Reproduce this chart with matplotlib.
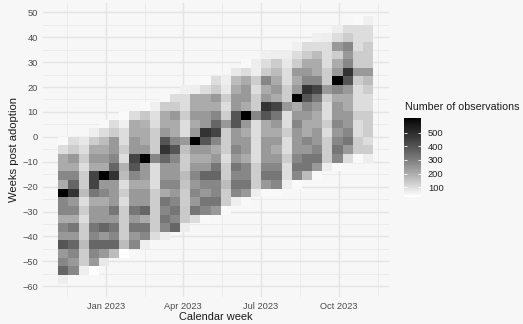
import numpy as np
import matplotlib
matplotlib.use("Agg")
import matplotlib.pyplot as plt
import matplotlib.dates as mdates
from matplotlib.colors import ListedColormap

# ---- data -----------------------------------------------------------------
first_week = np.datetime64("2022-11-12")
last_week = np.datetime64("2023-11-04")
weeks_post_min = -57
weeks_post_max = 47
n_bins = 30

# observations per 2D bin; each column lists counts from its lowest filled row upward
col_start = [0, 1, 1, 1, 2, 3, 3, 4, 4, 5, 5, 6, 6, 7, 7, 8,
             8, 9, 9, 10, 10, 10, 11, 11, 12, 12, 13, 13, 14, 14, 14]
col_counts = [
    [65, 358, 280, 242, 398, 242, 280, 205, 280, 280, 605, 205, 280, 205, 205, 100, 43],
    [280, 242, 280, 358, 242, 318, 205, 280, 242, 483, 358, 280, 205, 242, 134, 100],
    [65, 134, 134, 169, 134, 134, 100, 134, 100, 169, 134, 134, 100, 134, 100, 77],
    [32, 242, 280, 358, 280, 318, 242, 242, 205, 318, 439, 439, 205, 242, 205, 134, 65],
    [77, 242, 358, 242, 358, 242, 242, 205, 280, 242, 605, 205, 242, 205, 169, 100, 45],
    [169, 358, 280, 318, 242, 318, 242, 242, 242, 483, 358, 280, 242, 242, 134, 100],
    [31, 169, 134, 134, 134, 134, 100, 134, 100, 169, 190, 100, 134, 100, 100, 61, 40],
    [280, 242, 318, 242, 318, 242, 242, 205, 280, 398, 439, 242, 242, 205, 205, 100],
    [65, 280, 318, 205, 358, 242, 242, 205, 242, 242, 605, 242, 205, 205, 190, 142, 43],
    [100, 134, 134, 134, 134, 134, 100, 100, 100, 280, 134, 134, 134, 100, 95, 61],
    [65, 280, 318, 280, 318, 205, 280, 242, 242, 358, 483, 400, 242, 205, 205, 134, 45],
    [358, 280, 318, 280, 242, 280, 242, 242, 280, 398, 280, 205, 205, 242, 134, 100],
    [70, 140, 140, 134, 134, 150, 169, 134, 134, 160, 242, 100, 100, 134, 100, 100, 61],
    [100, 318, 242, 280, 242, 280, 242, 205, 242, 605, 242, 205, 242, 205, 205, 65],
    [43, 280, 318, 242, 280, 358, 242, 205, 242, 398, 483, 242, 242, 205, 205, 100, 43],
    [242, 318, 280, 280, 358, 318, 242, 205, 280, 439, 358, 280, 205, 242, 134, 100],
    [43, 134, 134, 169, 134, 134, 100, 134, 134, 134, 242, 134, 100, 134, 77, 65],
    [65, 280, 318, 280, 318, 242, 280, 242, 242, 398, 398, 242, 242, 205, 169, 77],
    [45, 242, 318, 280, 280, 205, 242, 242, 205, 242, 605, 205, 242, 242, 205, 100, 43],
    [65, 134, 134, 134, 100, 100, 100, 100, 100, 280, 134, 134, 100, 134, 65, 65],
    [43, 242, 318, 280, 242, 242, 242, 205, 205, 398, 483, 242, 205, 280, 134, 100, 61],
    [43, 280, 318, 280, 242, 205, 242, 205, 242, 318, 439, 205, 242, 205, 169, 134, 65],
    [65, 100, 100, 134, 100, 100, 134, 100, 100, 242, 134, 134, 100, 100, 77, 65],
    [43, 280, 318, 280, 242, 242, 242, 280, 242, 205, 605, 242, 205, 242, 134, 100, 61],
    [169, 318, 318, 242, 280, 205, 205, 242, 280, 398, 483, 280, 242, 205, 134, 100],
    [43, 242, 318, 280, 242, 242, 205, 205, 242, 318, 439, 280, 205, 205, 169, 100, 61],
    [65, 134, 134, 134, 100, 134, 100, 100, 134, 242, 134, 134, 100, 100, 100, 65],
    [43, 280, 318, 280, 242, 280, 242, 242, 205, 280, 605, 242, 205, 134, 242, 100, 65],
    [100, 242, 318, 280, 242, 242, 205, 205, 242, 398, 483, 280, 242, 280, 134, 100],
    [43, 134, 134, 100, 100, 134, 100, 100, 100, 134, 242, 134, 134, 100, 100, 100, 43],
    [65, 134, 100, 134, 134, 134, 100, 100, 134, 169, 242, 134, 134, 134, 100, 100, 61],
]

legend_ticks = [100, 200, 300, 400, 500]
x_tick_dates = ["2023-01-01", "2023-04-01", "2023-07-01", "2023-10-01"]
x_tick_labels = ["Jan 2023", "Apr 2023", "Jul 2023", "Oct 2023"]
y_ticks = list(range(-60, 51, 10))


# ---- binning (same rule as a 2D histogram with 30 bins) ---------------------
def bin_edges(lo, hi, bins=n_bins):
    w = (hi - lo) / bins
    origin = np.floor(lo / w) * w
    n = int(np.floor((hi + w - origin) / w + 1e-9)) + 1
    edges = origin + w * np.arange(n)
    if len(edges) > 1 and edges[-2] >= hi:
        edges = edges[:-1]
    return edges


x_lo = mdates.date2num(first_week)
x_hi = mdates.date2num(last_week)
x_edges = bin_edges(x_lo, x_hi)
y_edges = bin_edges(weeks_post_min, weeks_post_max)

grid = np.full((len(y_edges) - 1, len(x_edges) - 1), np.nan)
for i, (start, counts) in enumerate(zip(col_start, col_counts)):
    grid[start:start + len(counts), i] = counts
grid = np.ma.masked_invalid(grid)


# ---- white -> black ramp, linear in CIE L* ---------------------------------
def lstar_gray(t):
    L = 100.0 * (1.0 - t)
    Y = np.where(L > 8, ((L + 16) / 116.0) ** 3, L / 903.3)
    s = np.where(Y <= 0.0031308, 12.92 * Y, 1.055 * Y ** (1 / 2.4) - 0.055)
    return np.clip(s, 0, 1)


g = lstar_gray(np.linspace(0, 1, 256))
cmap = ListedColormap(np.column_stack([g, g, g]))

# ---- figure ----------------------------------------------------------------
plt.rcParams["font.family"] = ["Liberation Sans", "DejaVu Sans"]
W, H = 523, 324
bg = "#f7f7f7"
fig = plt.figure(figsize=(W / 100, H / 100), dpi=100, facecolor=bg)

pl, pr, pt, pb = 42.6, 388.7, 2.6, 297.0
ax = fig.add_axes([pl / W, 1 - pb / H, (pr - pl) / W, (pb - pt) / H])
ax.set_facecolor(bg)

vmin, vmax = float(grid.min()), float(grid.max())
mesh = ax.pcolormesh(x_edges, y_edges, grid, cmap=cmap, vmin=vmin, vmax=vmax,
                     shading="flat", edgecolors="none", antialiased=False,
                     zorder=2)

xr = x_edges[-1] - x_edges[0]
yr = y_edges[-1] - y_edges[0]
ax.set_xlim(x_edges[0] - 0.05 * xr, x_edges[-1] + 0.05 * xr)
ax.set_ylim(y_edges[0] - 0.05 * yr, y_edges[-1] + 0.05 * yr)

major_x = mdates.date2num(np.array(x_tick_dates, dtype="datetime64[D]"))
all_x = np.concatenate([[major_x[0] - 92], major_x, [major_x[-1] + 92]])
minor_x = (all_x[:-1] + all_x[1:]) / 2
ax.set_xticks(major_x)
ax.set_xticklabels(x_tick_labels)
ax.set_xticks(minor_x, minor=True)
ax.set_yticks(y_ticks)
ax.set_yticks([v + 5 for v in y_ticks[:-1]], minor=True)

ax.grid(which="major", color="#e4e4e4", linewidth=1.05, zorder=0)
ax.grid(which="minor", color="#ebebeb", linewidth=0.6, zorder=0)
ax.set_axisbelow(True)
for s in ax.spines.values():
    s.set_visible(False)
ax.tick_params(which="both", length=0)
ax.tick_params(axis="x", pad=3.3, labelsize=6.7, labelcolor="#4d4d4d")
ax.tick_params(axis="y", pad=3.4, labelsize=6.7, labelcolor="#4d4d4d")

fig.text(14 / W, 1 - 149.8 / H, "Weeks post adoption", rotation=90,
         ha="center", va="center", fontsize=8.1, color="#1a1a1a")
fig.text((pl + pr) / 2 / W, 1 - 317.5 / H, "Calendar week",
         ha="center", va="center", fontsize=7.9, color="#1a1a1a")

# ---- colour bar --------------------------------------------------------------
cax = fig.add_axes([404 / W, 1 - 196.7 / H, 17 / W, 78.4 / H])
cb = fig.colorbar(mesh, cax=cax)
cb.outline.set_visible(False)
cb.set_ticks(legend_ticks)
cax.tick_params(length=0, pad=5, labelsize=6.7, labelcolor="#222222")
for v in legend_ticks:
    cax.plot([0, 0.2], [v, v], color="white", lw=0.6, solid_capstyle="butt")
    cax.plot([0.8, 1], [v, v], color="white", lw=0.6, solid_capstyle="butt")
cax.set_xlim(0, 1)
fig.text(405 / W, 1 - 107.5 / H, "Number of observations",
         ha="left", va="center", fontsize=7.7, color="#1a1a1a")

fig.savefig("out.png", dpi=100, facecolor=bg)
